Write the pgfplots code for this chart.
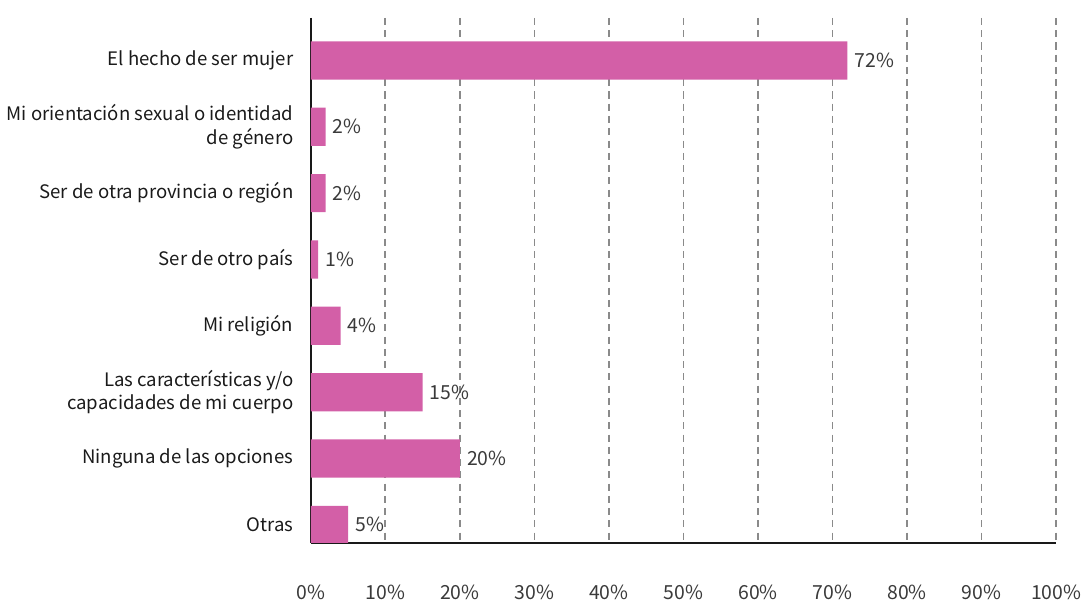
\documentclass[border=0pt]{standalone}
\usepackage{pgfplots}
\pgfplotsset{compat=1.18}
\usepackage{fontspec}
\setmainfont{Noto Sans CJK SC}
\definecolor{barpink}{HTML}{D35FA7}
\definecolor{gridgray}{HTML}{8A8A8A}
\definecolor{labgray}{HTML}{3A3A3A}
\definecolor{txt}{HTML}{1A1A1A}
\pgfplotstableread{
i v l
0 72 72\%
1 2 2\%
2 2 2\%
3 1 1\%
4 4 4\%
5 15 15\%
6 20 20\%
7 5 5\%
}\datatab
\begin{document}
\begin{tikzpicture}
\begin{axis}[
  name=ax,
  scale only axis, width=365pt, height=257pt,
  xbar, bar width=18.7pt,
  xmin=0, xmax=100,
  ymin=-0.64, ymax=7.27, y dir=reverse,
  axis x line=bottom, axis y line=left,
  axis line style={-, line width=1.1pt, black!90},
  xtick={0,10,...,100},
  xticklabels={0\%,10\%,20\%,30\%,40\%,50\%,60\%,70\%,80\%,90\%,100\%},
  xticklabel style={font=\fontsize{9.5}{11}\selectfont, labgray, yshift=-17pt},
  ytick={0,...,7},
  yticklabels={{El hecho de ser mujer},{Mi orientación sexual o identidad\\de género},{Ser de otra provincia o región},{Ser de otro país},{Mi religión},{Las características y/o\\capacidades de mi cuerpo},{Ninguna de las opciones},{Otras}},
  yticklabel style={align=right, font=\fontsize{9.1}{11.5}\selectfont, txt, xshift=-5pt},
  major tick length=0,
  xmajorgrids, ymajorgrids=false,
  grid style={gridgray, line width=0.8pt, dash pattern=on 3.5pt off 2.5pt},
  nodes near coords, point meta=explicit symbolic,
  nodes near coords style={font=\fontsize{9.5}{11}\selectfont, labgray, anchor=west, xshift=0pt},
]
\addplot[fill=barpink, draw=none] table[x=v, y=i, meta=l] {\datatab};
\end{axis}
\path (ax.north west) ++(0,8.8pt);
\end{tikzpicture}
\end{document}
